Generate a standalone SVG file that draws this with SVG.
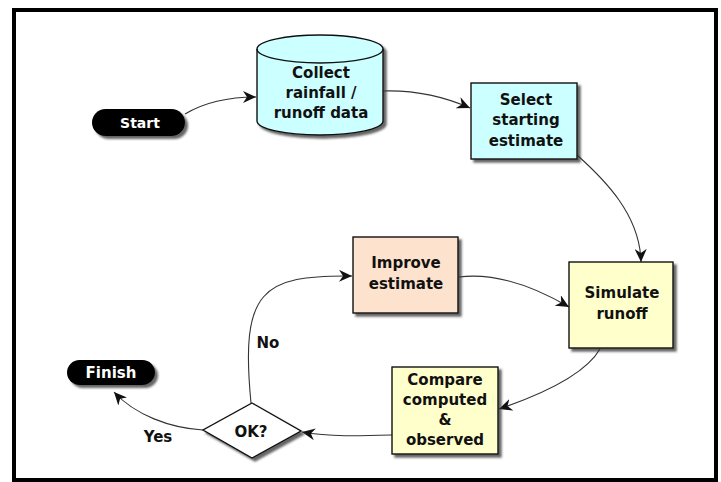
<svg xmlns="http://www.w3.org/2000/svg" width="721" height="482" viewBox="0 0 721 482">
  <style>
    .lbl { font-family: "DejaVu Sans", Verdana, sans-serif; font-weight: bold; font-size: 15px; fill: #111; text-anchor: middle; }
    .term { font-family: "DejaVu Sans", Verdana, sans-serif; font-weight: bold; font-size: 15px; fill: #fff; text-anchor: middle; }
    .box { stroke: #111; stroke-width: 1.4; filter: url(#shadow); }
    .cyan { fill: #ccffff; }
    .yellow { fill: #ffffcc; }
    .peach { fill: #fde2cd; }
    .pill { fill: #000; filter: url(#shadow); }
    .edge { fill: none; stroke: #333; stroke-width: 1.1; marker-end: url(#arrow); }
  </style>
  <defs>
    <filter id="shadow" x="-20%" y="-20%" width="150%" height="160%">
      <feDropShadow dx="3" dy="3" stdDeviation="1.2" flood-color="#333" flood-opacity="0.75"/>
    </filter>
    <marker id="arrow" markerUnits="userSpaceOnUse" markerWidth="14" markerHeight="12" refX="13" refY="6" orient="auto">
      <path d="M0,0 L13,6 L0,12 L4,6 Z" fill="#111"/>
    </marker>
  </defs>

  <rect x="0" y="0" width="721" height="482" fill="#fff"/>
  <!-- outer frame -->
  <rect x="14" y="10" width="702" height="470" fill="none" stroke="#000" stroke-width="4"/>

  <!-- connectors -->
  <g id="connectors">
    <path class="edge" d="M185,114 C205,102 230,97 256,97"/>
    <path class="edge" d="M383,91 C415,90 445,97 470,108"/>
    <path class="edge" d="M577,155 C605,180 640,215 641,262"/>
    <path class="edge" d="M600,349 C585,375 540,395 499,409"/>
    <path class="edge" d="M392,435 C360,436 330,437 302,432"/>
    <path class="edge" d="M203,430 C170,428 135,415 114,392"/>
    <path class="edge" d="M251,403 C240,290 262,275 352,276"/>
    <path class="edge" d="M459,277 C500,272 540,290 569,307"/>
    <text class="lbl" x="268" y="348">No</text>
    <text class="lbl" x="158" y="442">Yes</text>
  </g>

  <g id="start">
    <rect class="pill" x="92" y="109" width="93" height="27" rx="13.5"/>
    <text class="term" x="140" y="128" style="font-size:14px">Start</text>
  </g>

  <g id="collect">
    <path class="box cyan" d="M257,49 L257,121 A63,14 0 0 0 383,121 L383,49 A63,14 0 0 0 257,49 Z"/>
    <path d="M257,49 A63,14 0 0 0 383,49" fill="none" stroke="#111" stroke-width="1.4"/>
    <text class="lbl" x="321" y="78">Collect</text>
    <text class="lbl" x="321" y="98">rainfall /</text>
    <text class="lbl" x="321" y="118">runoff data</text>
  </g>

  <g id="select">
    <rect class="box cyan" x="471" y="83" width="106" height="76"/>
    <text class="lbl" x="526" y="105">Select</text>
    <text class="lbl" x="526" y="125">starting</text>
    <text class="lbl" x="526" y="146">estimate</text>
  </g>

  <g id="simulate">
    <rect class="box yellow" x="569" y="262" width="104" height="86"/>
    <text class="lbl" x="622" y="298">Simulate</text>
    <text class="lbl" x="622" y="319">runoff</text>
  </g>

  <g id="improve">
    <rect class="box peach" x="353" y="237" width="105" height="76"/>
    <text class="lbl" x="406" y="268">Improve</text>
    <text class="lbl" x="406" y="289">estimate</text>
  </g>

  <g id="compare">
    <rect class="box yellow" x="392" y="367" width="106" height="87"/>
    <text class="lbl" x="445" y="385">Compare</text>
    <text class="lbl" x="445" y="405">computed</text>
    <text class="lbl" x="445" y="425">&amp;</text>
    <text class="lbl" x="445" y="445">observed</text>
  </g>

  <g id="decision">
    <polygon class="box" points="252,403 301,431 252,458 203,430" fill="#fff"/>
    <text class="lbl" x="251" y="437">OK?</text>
  </g>

  <g id="finish">
    <rect class="pill" x="67" y="360" width="88" height="25" rx="12.5"/>
    <text class="term" x="111" y="378">Finish</text>
  </g>
</svg>
